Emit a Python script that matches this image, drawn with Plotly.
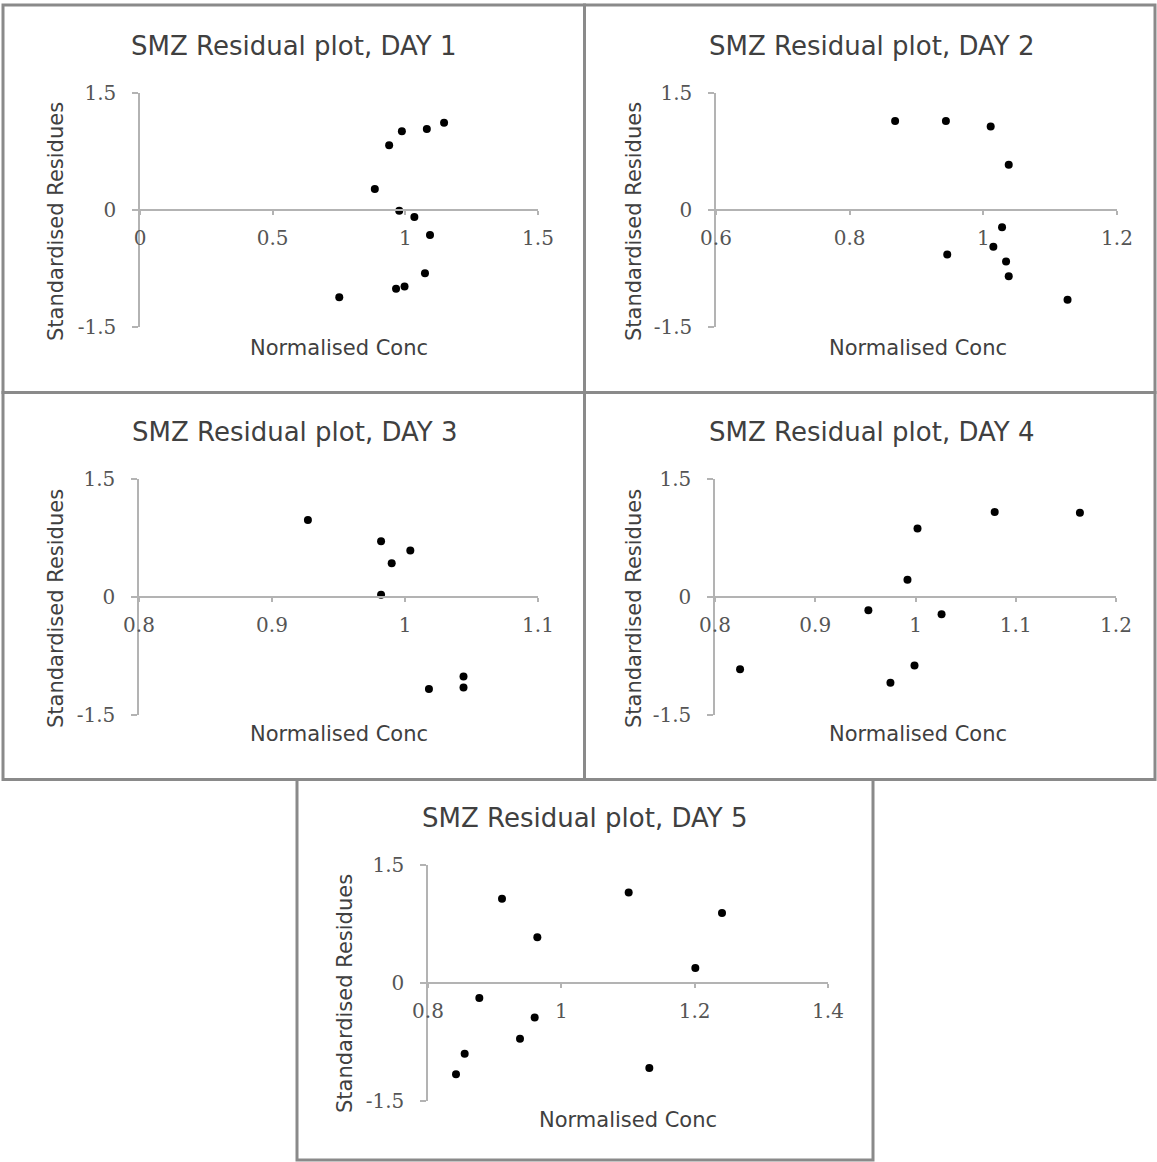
import plotly.graph_objects as go

# ---------------- data ----------------
day1_x = [0.885, 0.939, 0.987, 1.081, 1.146, 0.977, 1.034, 1.093, 1.074, 0.965, 0.997, 0.751]
day1_y = [0.27, 0.83, 1.01, 1.04, 1.12, -0.01, -0.09, -0.32, -0.81, -1.01, -0.98, -1.12]

day2_x = [0.868, 0.944, 1.011, 1.038, 1.028, 1.015, 0.946, 1.034, 1.038, 1.126]
day2_y = [1.14, 1.14, 1.07, 0.58, -0.22, -0.47, -0.57, -0.66, -0.85, -1.15]

day3_x = [0.927, 0.982, 1.004, 0.990, 0.982, 1.018, 1.044, 1.044]
day3_y = [0.98, 0.71, 0.59, 0.43, 0.03, -1.17, -1.01, -1.15]

day4_x = [1.079, 1.164, 1.002, 0.992, 0.953, 1.026, 0.999, 0.975, 0.825]
day4_y = [1.08, 1.07, 0.87, 0.22, -0.17, -0.22, -0.87, -1.09, -0.92]

day5_x = [0.911, 0.964, 1.101, 1.241, 1.201, 0.877, 0.960, 0.938, 0.855, 0.842, 1.132]
day5_y = [1.07, 0.58, 1.15, 0.89, 0.19, -0.19, -0.44, -0.71, -0.90, -1.16, -1.08]

titles = ["SMZ Residual plot, DAY 1", "SMZ Residual plot, DAY 2", "SMZ Residual plot, DAY 3",
          "SMZ Residual plot, DAY 4", "SMZ Residual plot, DAY 5"]

x_ticks_1 = [0, 0.5, 1, 1.5]
x_ticks_2 = [0.6, 0.8, 1, 1.2]
x_ticks_3 = [0.8, 0.9, 1, 1.1]
x_ticks_4 = [0.8, 0.9, 1, 1.1, 1.2]
x_ticks_5 = [0.8, 1, 1.2, 1.4]
x_ticktext_1 = ["0", "0.5", "1", "1.5"]
x_ticktext_2 = ["0.6", "0.8", "1", "1.2"]
x_ticktext_3 = ["0.8", "0.9", "1", "1.1"]
x_ticktext_4 = ["0.8", "0.9", "1", "1.1", "1.2"]
x_ticktext_5 = ["0.8", "1", "1.2", "1.4"]

y_ticks = [-1.5, 0, 1.5]
y_ticktext = ["-1.5", "0", "1.5"]

x_title = "Normalised Conc"
y_title = "Standardised Residues"

# ---------------- layout helpers ----------------
W, H = 1157, 1162


def px(x):
    return x / W


def py(y):
    return 1 - y / H


xs = [day1_x, day2_x, day3_x, day4_x, day5_x]
ys = [day1_y, day2_y, day3_y, day4_y, day5_y]
xticks = [x_ticks_1, x_ticks_2, x_ticks_3, x_ticks_4, x_ticks_5]
xtext = [x_ticktext_1, x_ticktext_2, x_ticktext_3, x_ticktext_4, x_ticktext_5]

# plot-area boxes in pixels (x0, x1, ytop, ybottom)
plot_boxes = [
    (140, 538, 93, 327),
    (716, 1117, 93, 327),
    (139, 538, 479, 715),
    (715, 1116, 479, 715),
    (428, 828, 865, 1101),
]
# panel frames (x0, x1, y0, y1)
frames = [
    (3, 584.5, 5, 392.5),
    (584.5, 1155, 5, 392.5),
    (3, 584.5, 392.5, 779.5),
    (584.5, 1155, 392.5, 779.5),
    (297, 873, 779.5, 1160),
]
title_pos = [(293, 46), (871, 46), (294, 432), (871, 432), (584, 818)]
ytitle_pos = [(56, 222), (634, 222), (56, 609), (634, 609), (345, 994)]
xtitle_pos = [(339, 348), (918, 348), (339, 734), (918, 734), (628, 1120)]

AXIS_COL = "#b3b3b3"
TICK_FONT = dict(family="DejaVu Serif", size=20, color="#555555")

fig = go.Figure()
layout = dict(
    template="none",
    width=W, height=H,
    margin=dict(l=0, r=0, t=0, b=0, pad=0, autoexpand=False),
    paper_bgcolor="white", plot_bgcolor="white",
    showlegend=False,
    annotations=[], shapes=[],
)

for i in range(5):
    n = "" if i == 0 else str(i + 1)
    x0, x1, yt, yb = plot_boxes[i]
    ticks = xticks[i]
    fig.add_trace(go.Scatter(
        x=xs[i], y=ys[i], mode="markers",
        marker=dict(color="black", size=8, line=dict(width=0)),
        xaxis="x" + n, yaxis="y" + n,
    ))
    ydom = [py(yb), py(yt)]
    layout["xaxis" + n] = dict(
        domain=[px(x0), px(x1)], range=[ticks[0], ticks[-1]],
        anchor="free", position=(ydom[0] + ydom[1]) / 2,
        automargin=False,
        showline=True, linecolor=AXIS_COL, linewidth=1.5,
        ticks="outside", ticklen=4, tickcolor=AXIS_COL, tickwidth=1.5,
        tickvals=ticks, ticktext=xtext[i], tickfont=TICK_FONT,
        ticklabelstandoff=6,
        showgrid=False, zeroline=False,
    )
    layout["yaxis" + n] = dict(
        domain=ydom, range=[-1.5, 1.5], anchor="x" + n,
        automargin=False,
        showline=True, linecolor=AXIS_COL, linewidth=1.5,
        ticks="outside", ticklen=6, tickcolor=AXIS_COL, tickwidth=1.5,
        tickvals=y_ticks, ticktext=y_ticktext, tickfont=TICK_FONT,
        ticklabelstandoff=12,
        showgrid=False, zeroline=False,
    )
    fx0, fx1, fy0, fy1 = frames[i]
    layout["shapes"].append(dict(
        type="rect", xref="paper", yref="paper",
        x0=px(fx0), x1=px(fx1), y0=py(fy1), y1=py(fy0),
        line=dict(color="#8a8a8a", width=3), layer="above",
    ))
    tx, ty = title_pos[i]
    layout["annotations"].append(dict(
        text=titles[i], x=px(tx), y=py(ty), xref="paper", yref="paper",
        xanchor="center", yanchor="middle", showarrow=False,
        font=dict(family="DejaVu Sans", size=26, color="#404040"),
    ))
    ax, ay = ytitle_pos[i]
    layout["annotations"].append(dict(
        text=y_title, x=px(ax), y=py(ay), xref="paper", yref="paper",
        xanchor="center", yanchor="middle", showarrow=False, textangle=-90,
        font=dict(family="DejaVu Sans", size=21, color="#404040"),
    ))
    bx, by = xtitle_pos[i]
    layout["annotations"].append(dict(
        text=x_title, x=px(bx), y=py(by), xref="paper", yref="paper",
        xanchor="center", yanchor="middle", showarrow=False,
        font=dict(family="DejaVu Sans", size=21, color="#404040"),
    ))

fig.update_layout(**layout)
fig.write_html("out.html")
